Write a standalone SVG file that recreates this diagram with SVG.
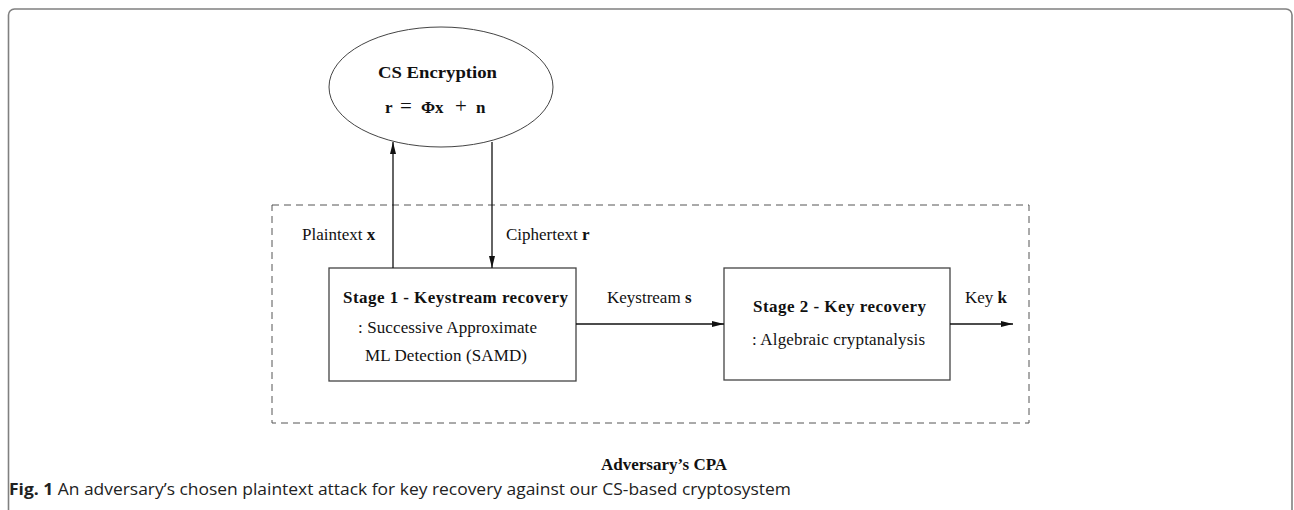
<svg xmlns="http://www.w3.org/2000/svg" width="1294" height="510" viewBox="0 0 1294 510">
<style>
.serif{font-family:"Liberation Serif","Times New Roman",serif;font-size:17px;fill:#111}
.b{font-weight:bold}
.cap{font-family:"Open Sans","Noto Sans","Liberation Sans",sans-serif;font-size:16.5px;fill:#222}
.box{fill:#fff;stroke:#444;stroke-width:1.3}
.conn{stroke:#111;stroke-width:1.3;fill:none}
</style>
<defs>
<marker id="ah" markerWidth="13" markerHeight="8" refX="12" refY="4" orient="auto" markerUnits="userSpaceOnUse">
<path d="M0,1 L12,4 L0,7 Z" fill="#111"/>
</marker>
</defs>
<rect x="8.5" y="9" width="1283.5" height="520" rx="6" fill="none" stroke="#808080" stroke-width="1.6"/>
<rect id="adversary" x="272" y="205" width="757" height="218" fill="none" stroke="#555" stroke-width="1" stroke-dasharray="7,5"/>
<g id="encryption">
<ellipse cx="441" cy="87" rx="112" ry="60" fill="#fff" stroke="#444" stroke-width="1"/>
<text class="serif b" x="378" y="78" font-size="19" textLength="119" lengthAdjust="spacingAndGlyphs">CS Encryption</text>
<text class="serif" y="113" font-size="19"><tspan class="b" x="385">r</tspan><tspan x="400" font-size="21">=</tspan><tspan class="b" x="421">Φx</tspan><tspan x="455" font-size="21">+</tspan><tspan class="b" x="476">n</tspan></text>
</g>
<g id="stage1">
<rect class="box" x="329" y="268" width="247" height="113"/>
<text class="serif b" x="343" y="303" textLength="225" lengthAdjust="spacing">Stage 1 - Keystream recovery</text>
<text class="serif" x="358" y="333" textLength="179" lengthAdjust="spacing">: Successive Approximate</text>
<text class="serif" x="365" y="361" textLength="162" lengthAdjust="spacing">ML Detection (SAMD)</text>
</g>
<g id="stage2">
<rect class="box" x="724" y="268" width="226" height="112"/>
<text class="serif b" x="753" y="312" textLength="173" lengthAdjust="spacing">Stage 2 - Key recovery</text>
<text class="serif" x="752" y="345" textLength="173" lengthAdjust="spacing">: Algebraic cryptanalysis</text>
</g>
<g id="connectors">
<line class="conn" x1="393" y1="268" x2="393" y2="142" marker-end="url(#ah)"/>
<line class="conn" x1="492" y1="142" x2="492" y2="268" marker-end="url(#ah)"/>
<line class="conn" x1="576" y1="324" x2="724" y2="324" marker-end="url(#ah)"/>
<line class="conn" x1="950" y1="324" x2="1013" y2="324" marker-end="url(#ah)"/>
<text class="serif" x="302" y="240">Plaintext <tspan class="b">x</tspan></text>
<text class="serif" x="506" y="240">Ciphertext <tspan class="b">r</tspan></text>
<text class="serif" x="607" y="303">Keystream <tspan class="b">s</tspan></text>
<text class="serif" x="965" y="303">Key <tspan class="b">k</tspan></text>
</g>
<text class="serif b" x="601" y="470" font-size="16">Adversary’s CPA</text>
<text class="cap" x="9" y="495" textLength="782" lengthAdjust="spacingAndGlyphs"><tspan font-weight="bold">Fig. 1</tspan> An adversary’s chosen plaintext attack for key recovery against our CS-based cryptosystem</text>
</svg>
